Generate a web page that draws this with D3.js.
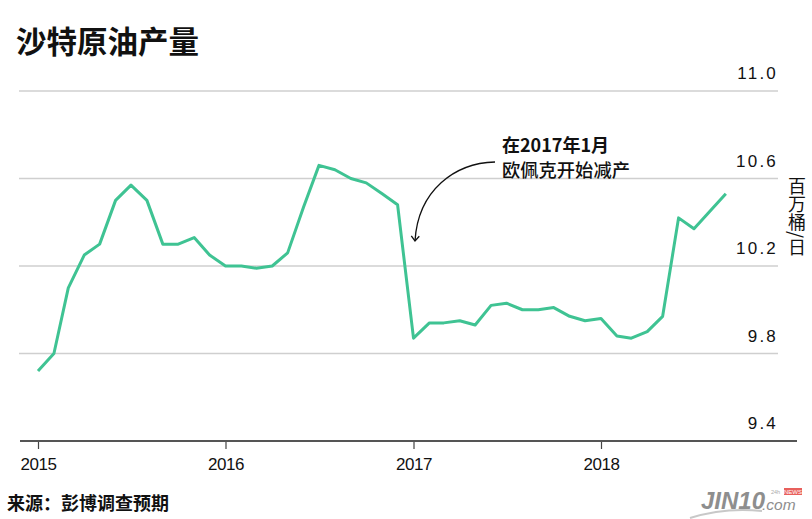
<!DOCTYPE html>
<html><head><meta charset="utf-8">
<script src="https://cdn.jsdelivr.net/npm/d3@7"></script>
<style>
html,body{margin:0;padding:0;background:#fff;}
svg{display:block;}
</style></head>
<body>
<svg id="chart" width="812" height="519"></svg>
<script>
const months = ["2015-01","2015-02","2015-03","2015-04","2015-05","2015-06","2015-07","2015-08","2015-09","2015-10","2015-11","2015-12",
"2016-01","2016-02","2016-03","2016-04","2016-05","2016-06","2016-07","2016-08","2016-09","2016-10","2016-11","2016-12",
"2017-01","2017-02","2017-03","2017-04","2017-05","2017-06","2017-07","2017-08","2017-09","2017-10","2017-11","2017-12",
"2018-01","2018-02","2018-03","2018-04","2018-05","2018-06","2018-07","2018-08","2018-09"];
const production = [9.72,9.80,10.10,10.25,10.30,10.50,10.57,10.50,10.30,10.30,10.33,10.25,
10.20,10.20,10.19,10.20,10.26,10.47,10.66,10.64,10.60,10.58,10.53,10.48,
9.87,9.94,9.94,9.95,9.93,10.02,10.03,10.00,10.00,10.01,9.97,9.95,
9.96,9.88,9.87,9.90,9.97,10.42,10.37,10.45,10.53];
const yTicks = [9.4,9.8,10.2,10.6,11.0];
const xTickYears = ["2015","2016","2017","2018"];
const title = "沙特原油产量";
const unitLabel = "百万桶/日";
const noteLines = ["在2017年1月","欧佩克开始减产"];
const source = "来源：彭博调查预期";

const parse = d3.timeParse("%Y-%m");
const data = months.map((m,i)=>({date:parse(m), value:production[i]}));

const svg = d3.select("#chart");
const cjk = "'Noto Sans CJK SC','Noto Sans',sans-serif";
const latin = "'Liberation Sans',Arial,sans-serif";

const x = d3.scaleTime().domain([parse("2015-01"), parse("2018-01")]).range([38, 601]);
const y = d3.scaleLinear().domain([9.4, 11.0]).range([441, 91]);

// title
svg.append("text").attr("x",16).attr("y",53).text(title)
  .style("font-family",cjk).style("font-weight","bold").style("font-size","30.5px").attr("fill","#111");

// gridlines
svg.append("g").selectAll("line").data(yTicks.filter(d=>d>9.4)).join("line")
  .attr("x1",19).attr("x2",778).attr("y1",d=>y(d)).attr("y2",d=>y(d))
  .attr("stroke","#cfcfcf").attr("stroke-width",1.5);

// y labels
svg.append("g").selectAll("text").data(yTicks).join("text")
  .attr("x",778).attr("y",d=>y(d)-12)
  .attr("text-anchor","end")
  .style("font-family",latin).style("font-size","17px").style("letter-spacing","2.2px")
  .attr("fill","#111")
  .text(d=>d.toFixed(1));

// unit label vertical
svg.append("text").attr("x",797).attr("y",177)
  .style("writing-mode","vertical-rl")
  .style("font-family",cjk).style("font-size","18px").attr("fill","#111")
  .text(unitLabel);

// x axis
const xAxis = d3.axisBottom(x)
  .tickValues(xTickYears.map(yv=>parse(yv+"-01")))
  .tickFormat(d3.timeFormat("%Y"))
  .tickSize(8).tickSizeOuter(0);
const gx = svg.append("g").attr("transform","translate(0,441)").call(xAxis);
gx.select(".domain").remove();
gx.selectAll(".tick line").attr("stroke","#444").attr("stroke-width",1.2);
gx.selectAll(".tick text").attr("y",17).attr("dy","0.71em")
  .style("font-family",latin).style("font-size","17px").style("letter-spacing","-0.5px").attr("fill","#111");
svg.append("line").attr("x1",20).attr("x2",797).attr("y1",441).attr("y2",441)
  .attr("stroke","#555").attr("stroke-width",2);

// line
const line = d3.line().x(d=>x(d.date)).y(d=>y(d.value));
svg.append("path").datum(data).attr("d",line)
  .attr("fill","none").attr("stroke","#3fc393").attr("stroke-width",3)
  .attr("stroke-linejoin","round");

// annotation
svg.append("text").attr("x",502).attr("y",152).text(noteLines[0])
  .style("font-family",cjk).style("font-weight","bold").style("font-size","18px").attr("fill","#111");
svg.append("text").attr("x",502).attr("y",177).text(noteLines[1])
  .style("font-family",cjk).style("font-weight","500").style("font-size","18.3px").attr("fill","#111");
svg.append("defs").append("marker").attr("id","arr").attr("viewBox","-6 -6 12 12")
  .attr("refX",0).attr("refY",0).attr("markerWidth",12).attr("markerHeight",12)
  .attr("markerUnits","userSpaceOnUse").attr("orient","auto")
  .append("path").attr("d","M-5,-4 L0,0 L-5,4").attr("fill","none").attr("stroke","#111").attr("stroke-width",1.3);
svg.append("path").attr("d","M495,162 C455,163 418,190 415,241")
  .attr("fill","none").attr("stroke","#111").attr("stroke-width",1.3).attr("marker-end","url(#arr)");

// source
svg.append("text").attr("x",7).attr("y",510).text(source)
  .style("font-family",cjk).style("font-weight","bold").style("font-size","18px").attr("fill","#111");

// logo
const logo = svg.append("g");
logo.append("path").attr("d","M690,518 Q725,507 762,511").attr("fill","none").attr("stroke","#c8c8c8").attr("stroke-width",2);
logo.append("text").attr("x",701).attr("y",509).text("JIN10")
  .style("font-family","'Liberation Sans Narrow','Liberation Sans',sans-serif").style("font-style","italic").style("font-weight","bold")
  .style("font-size","24px").attr("fill","#8e8e8e");
logo.append("text").attr("x",762).attr("y",510).text(".com")
  .style("font-family","'Liberation Sans Narrow','Liberation Sans',sans-serif").style("font-style","italic")
  .style("font-size","15.5px").attr("fill","#8e8e8e");
logo.append("text").attr("x",771).attr("y",494).text("24h")
  .style("font-family",latin).style("font-size","5.5px").attr("fill","#aaa");
logo.append("rect").attr("x",784).attr("y",488).attr("width",18).attr("height",7).attr("fill","#e8605c");
logo.append("text").attr("x",793).attr("y",494).attr("text-anchor","middle").text("NEWS")
  .style("font-family",latin).style("font-size","6px").attr("fill","#fff");
</script>
</body></html>
